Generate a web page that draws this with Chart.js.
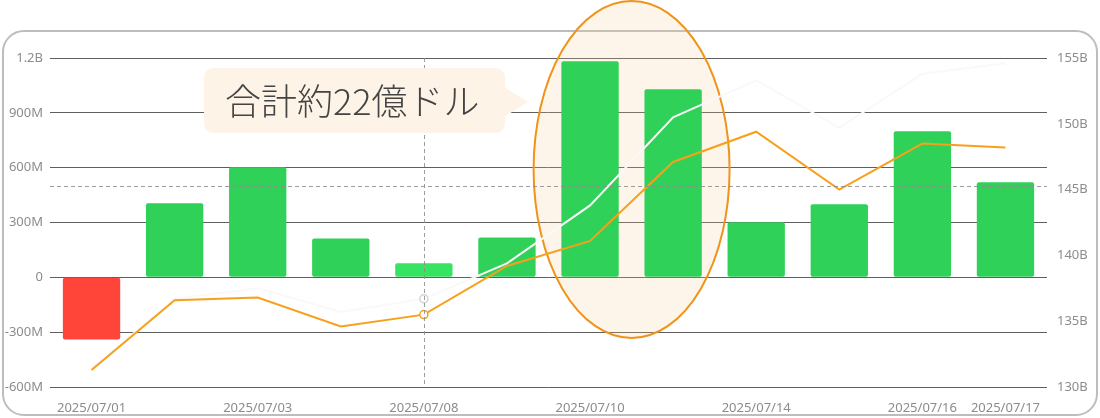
<!DOCTYPE html>
<html>
<head>
<meta charset="utf-8">
<script src="https://cdn.jsdelivr.net/npm/chart.js@4/dist/chart.umd.min.js"></script>
<style>
  html, body { margin: 0; padding: 0; background: #fff; }
  #wrap { position: relative; width: 1100px; height: 418px; overflow: hidden; }
  #card {
    position: absolute; left: 2px; top: 30px; width: 1092px; height: 382px;
    border: 2px solid #bdbdbd; border-radius: 22px; background: #fff;
  }
  #chart { position: absolute; left: 0; top: 0; }
</style>
</head>
<body>
<div id="wrap">
  <div id="card"></div>
  <canvas id="chart" width="1100" height="418"></canvas>
</div>
<script>
// ==== データ ====
const dates = ['2025/07/01', '2025/07/02', '2025/07/03', '2025/07/07', '2025/07/08', '2025/07/09',
               '2025/07/10', '2025/07/11', '2025/07/14', '2025/07/15', '2025/07/16', '2025/07/17'];
const shownDates = ['2025/07/01', '2025/07/03', '2025/07/08', '2025/07/10', '2025/07/14', '2025/07/16', '2025/07/17'];
const flowsM = [-340, 405, 602, 213, 77, 218, 1182, 1029, 301, 400, 799, 520];          // 日次フロー (百万ドル)
const orangeB = [131.3, 136.6, 136.8, 134.6, 135.5, 139.2, 141.1, 147.1, 149.4, 145.0, 148.5, 148.2]; // 右軸 (十億ドル)
const whiteB = [131.4, 136.7, 137.5, 135.7, 136.7, 139.4, 143.8, 150.5, 153.3, 149.7, 153.8, 154.6];  // 右軸 (十億ドル)
const leftTicks = [-600, -300, 0, 300, 600, 900, 1200];
const rightTicks = [130, 135, 140, 145, 150, 155];
const hoverIndex = 4;       // 2025/07/08
const crossValueM = 500;    // 横のクロスヘア
const circled = [6, 7];     // 楕円で囲む日
const noteText = '合計約22億ドル';

const GREEN = '#30d158', GREEN_HOVER = '#37e363', RED = '#ff453a';
const ORANGE = '#f7a01c';

function fmtLeft(v) {
    if (v === 0) return '0';
    if (Math.abs(v) >= 1000) return (v / 1000) + 'B';
    return v + 'M';
}

// ==== 装飾プラグイン ====
const decorations = {
    id: 'decorations',
    beforeDatasetsDraw(chart) {
        const { ctx, scales: { x } } = chart;
        const cx = (x.getPixelForValue(circled[0]) + x.getPixelForValue(circled[1])) / 2;
        ctx.save();
        ctx.beginPath();
        ctx.ellipse(cx, 169.5, 98, 168.5, 0, 0, Math.PI * 2);
        ctx.fillStyle = 'rgba(245,200,150,0.2)';
        ctx.fill();
        ctx.lineWidth = 2;
        ctx.strokeStyle = '#f0931a';
        ctx.stroke();
        ctx.restore();
    },
    afterDatasetsDraw(chart) {
        const { ctx, chartArea: a, scales: { x, y } } = chart;
        const px = Math.round(x.getPixelForValue(hoverIndex)) + 0.5;
        const py = Math.round(y.getPixelForValue(crossValueM)) + 0.5;
        ctx.save();
        ctx.setLineDash([4, 3]);
        ctx.lineWidth = 1;
        ctx.strokeStyle = 'rgba(140,140,140,0.85)';
        ctx.beginPath();
        ctx.moveTo(px, a.top); ctx.lineTo(px, a.bottom);
        ctx.moveTo(a.left, py); ctx.lineTo(a.right, py);
        ctx.stroke();
        ctx.restore();
    },
    afterDraw(chart) {
        const { ctx } = chart;
        ctx.save();
        // 吹き出し
        ctx.fillStyle = '#fdf3e6';
        ctx.beginPath();
        ctx.roundRect(204, 68, 301, 65, 9);
        ctx.fill();
        ctx.beginPath();
        ctx.moveTo(504, 87); ctx.lineTo(528, 102); ctx.lineTo(504, 117);
        ctx.closePath();
        ctx.fill();
        ctx.fillStyle = '#444';
        ctx.font = "300 36px 'Noto Sans CJK JP', sans-serif";
        ctx.textBaseline = 'middle';
        ctx.fillText(noteText, 225, 101);
        ctx.restore();
    }
};

// ==== Chart.js ====
Chart.defaults.font.family = "'Noto Sans', 'Noto Sans CJK JP', sans-serif";
Chart.defaults.font.size = 13;
Chart.defaults.color = '#8c8c8c';

const ctx = document.getElementById('chart').getContext('2d');
new Chart(ctx, {
    data: {
        labels: dates,
        datasets: [
            {
                type: 'line',
                data: orangeB,
                yAxisID: 'y1',
                borderColor: ORANGE,
                borderWidth: 2,
                tension: 0,
                pointRadius: c => c.dataIndex === hoverIndex ? 4 : 0,
                pointBackgroundColor: '#fff',
                pointBorderColor: ORANGE,
                pointBorderWidth: 1.5,
                order: 0
            },
            {
                type: 'line',
                data: whiteB,
                yAxisID: 'y1',
                borderColor: '#f9f9f9',
                borderWidth: 2,
                tension: 0,
                pointRadius: c => c.dataIndex === hoverIndex ? 4 : 0,
                pointBackgroundColor: '#fff',
                pointBorderColor: '#d4d4d4',
                pointBorderWidth: 1.5,
                order: 1
            },
            {
                type: 'bar',
                data: flowsM,
                yAxisID: 'y',
                backgroundColor: flowsM.map((v, i) => v < 0 ? RED : (i === hoverIndex ? GREEN_HOVER : GREEN)),
                borderRadius: 2,
                borderSkipped: false,
                categoryPercentage: 0.69,
                barPercentage: 1,
                order: 2
            }
        ]
    },
    options: {
        responsive: false,
        animation: false,
        devicePixelRatio: 1,
        layout: { padding: { top: 58, left: 0, right: 0, bottom: 0 } },
        plugins: { legend: { display: false }, tooltip: { enabled: false } },
        scales: {
            x: {
                offset: true,
                grid: { display: false },
                border: { display: false },
                ticks: {
                    autoSkip: false,
                    maxRotation: 0,
                    padding: 5,
                    callback: (v, i) => shownDates.includes(dates[i]) ? dates[i] : ''
                },
                afterFit: s => { s.height = 31; }
            },
            y: {
                position: 'left',
                min: -600,
                max: 1200,
                grid: { color: '#5f5f5f', drawTicks: false },
                border: { display: false },
                afterBuildTicks: s => { s.ticks = leftTicks.map(v => ({ value: v })); },
                ticks: { padding: 7, callback: v => fmtLeft(v) },
                afterFit: s => { s.width = 50; }
            },
            y1: {
                position: 'right',
                min: 130,
                max: 155,
                grid: { display: false, drawTicks: false },
                border: { display: false },
                afterBuildTicks: s => { s.ticks = rightTicks.map(v => ({ value: v })); },
                ticks: { padding: 10, callback: v => v + 'B' },
                afterFit: s => { s.width = 53; }
            }
        }
    },
    plugins: [decorations]
});
</script>
</body>
</html>
